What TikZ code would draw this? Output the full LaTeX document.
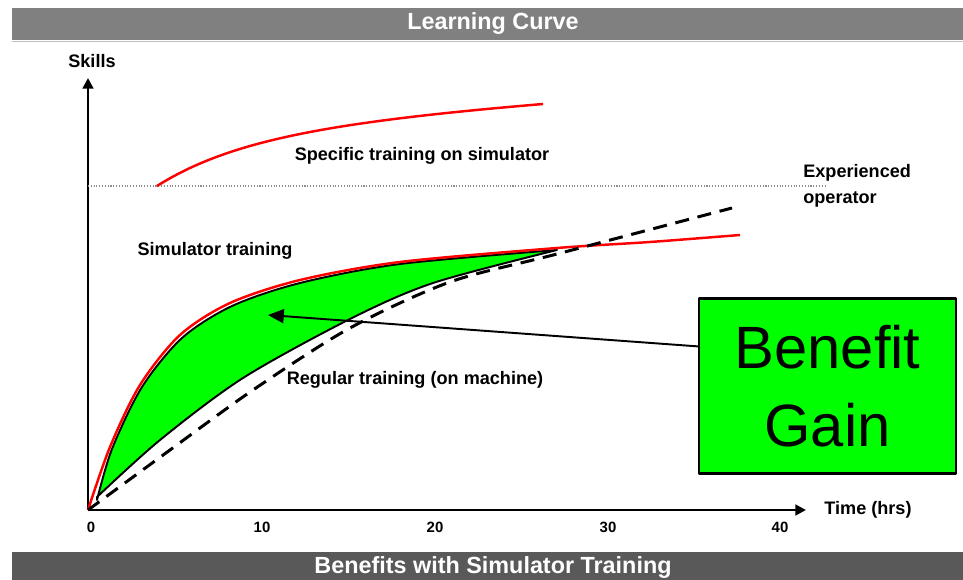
\documentclass[tikz,border=0pt]{standalone}
\usepackage{fontspec}
\setmainfont{Liberation Sans}
\usetikzlibrary{arrows.meta}

\definecolor{barGray}{HTML}{808080}
\definecolor{barDark}{HTML}{595959}
\definecolor{gainGreen}{HTML}{00FF00}
\definecolor{curveRed}{HTML}{FF0000}

\tikzset{
  lbl/.style={font=\bfseries\fontsize{10.3}{14.5}\selectfont, inner sep=0pt},
  ticklbl/.style={font=\bfseries\fontsize{8.5}{10}\selectfont, inner sep=0pt},
  bartitle/.style={font=\bfseries\fontsize{13.3}{15}\selectfont, text=white, inner sep=0pt},
  axis/.style={line width=1.7pt, -{Triangle[length=6pt,width=6pt]}},
  redcurve/.style={curveRed, line width=1.4pt},
}

\begin{document}
\begin{tikzpicture}[x=0.02cm,y=-0.02cm,line join=round]
  \useasboundingbox (0,0) rectangle (963,580);

  % 标题栏
  \fill[barGray] (12,8) rectangle (963,40);
  \draw[black!25, line width=1pt] (12,41.5) -- (963,41.5);
  \node[bartitle] (title) at (493,24) {Learning Curve};
  \fill[barDark] (12,552) rectangle (963,580);
  \node[bartitle] (footer) at (493,568) {Benefits with Simulator Training};

  % 坐标轴
  \coordinate (O) at (88,510);
  \coordinate (Ytop) at (88,78);
  \coordinate (Xend) at (806,510);
  \draw[axis] (O) -- (Ytop);
  \draw[axis] (O) -- (Xend);
  \node[lbl] (skills) at (92,61) {Skills};
  \node[lbl] (time) at (868,510) {Time (hrs)};
  \foreach \t/\xx in {0/91,10/262,20/435,30/608,40/780}
    \node[ticklbl] (tick\t) at (\xx,527) {\t};

  % 熟练操作员水平线
  \draw[black!45, densely dotted, line width=0.6pt] (88,186) -- (825,186);
  \node[lbl, anchor=west, align=left] (expert) at (803,186) {Experienced\\operator};

  % 模拟器专项训练曲线
  \draw[redcurve] (157,186) .. controls (230,140) and (330,122) .. (543,104);
  \node[lbl] (specific) at (422,156) {Specific training on simulator};

  % 效益区域
  \filldraw[fill=gainGreen, draw=black, line width=1.1pt]
    plot[smooth] coordinates {(97,500) (112,449) (142,387) (182,338) (232,306) (300,283) (400,264) (557,250)}
    -- plot[smooth] coordinates {(557,250) (433,283) (350,319) (243,378) (160,440) (97,497)}
    -- cycle;

  % 模拟器训练曲线
  \draw[redcurve] plot[smooth] coordinates {(88,510) (110,447) (140,385) (180,335) (230,303) (300,280) (400,262) (557,248) (650,242) (740,235)};
  \node[lbl] (simtrain) at (215,251) {Simulator training};

  % 常规训练曲线
  \draw[black, line width=1.7pt, dash pattern=on 8pt off 5pt]
    plot[smooth] coordinates {(88,510) (170,450) (253,390) (350,328) (450,282) (557,254) (732,208)};
  \node[lbl] (regular) at (415,380) {Regular training (on machine)};

  % 效益框与箭头
  \node[draw=black, line width=1.2pt, fill=gainGreen, minimum width=5.14cm, minimum height=3.5cm,
        align=center, font=\fontsize{34}{44}\selectfont, inner sep=0pt] (gain) at (827.5,386) {Benefit\\Gain};
  \coordinate (gainTip) at (268,315);
  \draw[line width=1.1pt, -{Triangle[length=9pt,width=8pt]}] (gain.163) -- (gainTip);
\end{tikzpicture}
\end{document}
